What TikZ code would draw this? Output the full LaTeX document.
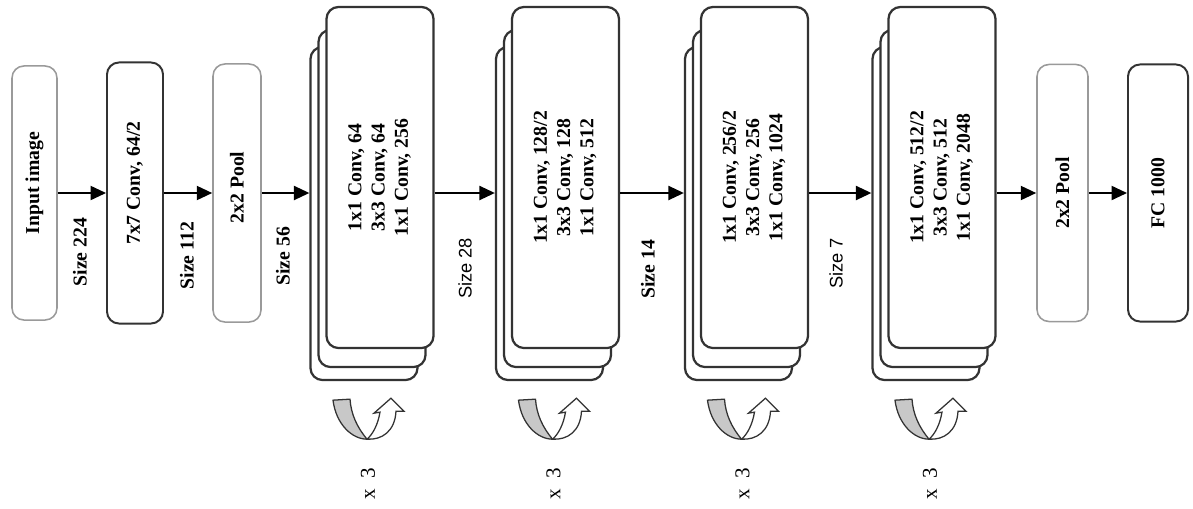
\documentclass[tikz,border=0pt]{standalone}
\usepackage{fontspec}
\setmainfont{Liberation Serif}
\setsansfont{Liberation Sans}
\usetikzlibrary{arrows.meta,positioning,calc}

\definecolor{edgedark}{HTML}{333333}
\definecolor{edgelight}{HTML}{9A9A9A}
\definecolor{loopgray}{HTML}{C8C8C8}

\tikzset{
  layer/.style={draw=edgedark, line width=1.4pt, rounded corners=0.3cm, fill=white,
    inner sep=0pt, font=\fontsize{14}{16.5}\selectfont\bfseries},
  lightlayer/.style={layer, draw=edgelight, line width=1.1pt},
  block/.style={layer, minimum width=2.675cm, minimum height=8.525cm, line width=1.6pt},
  flow/.style={line width=1.4pt, -{Triangle[length=11pt,width=10pt]}},
  sizelbl/.style={rotate=90, anchor=east, font=\fontsize{14}{16}\selectfont\bfseries},
  sizelblsf/.style={sizelbl, font=\sffamily\fontsize{13}{15}\selectfont},
  reploop/.pic={
    % grey band
    \draw[edgedark, line width=0.9pt, fill=loopgray]
      (-34,-39) .. controls (-31,-15) and (-15,0) .. (0,0)
      .. controls (-10,-12) and (-16,-25) .. (-17,-40) -- cycle;
    % open arrow
    \draw[edgedark, line width=0.9pt, fill=white]
      (0,0) .. controls (6,-5) and (11,-15) .. (13,-27) -- (7,-26) -- (24,-41)
      -- (37,-28) -- (29,-28) .. controls (28,-8) and (15,1) .. (0,0) -- cycle;
  }
}

\begin{document}
\begin{tikzpicture}[x=0.025cm, y=-0.025cm]
  \useasboundingbox (0,0) rectangle (1193,508);
  % Single blocks
  \node[lightlayer, minimum width=1.125cm, minimum height=6.35cm] (input) at (34.5,193)
    {\rotatebox{90}{\hspace{14pt}Input image}};
  \node[layer, minimum width=1.4cm, minimum height=6.525cm] (conv) at (135,193)
    {\rotatebox{90}{\hspace{14pt}7x7 Conv, 64/2}};
  \node[lightlayer, minimum width=1.2cm, minimum height=6.45cm] (pool1) at (237,193)
    {\rotatebox{90}{\hspace{8pt}2x2 Pool}};
  \node[lightlayer, minimum width=1.275cm, minimum height=6.425cm] (pool2) at (1062.5,193)
    {\rotatebox{90}{2x2 Pool}};
  \node[layer, minimum width=1.5cm, minimum height=6.425cm] (fc) at (1158,193)
    {\rotatebox{90}{FC 1000}};
  % Bottleneck stages
  \foreach \i/\cx/\txt in {
      1/380/{1x1 Conv, 64\\3x3 Conv, 64\\1x1 Conv, 256},
      2/565.5/{1x1 Conv, 128/2\\3x3 Conv, 128\\1x1 Conv, 512},
      3/754.5/{1x1 Conv, 256/2\\3x3 Conv, 256\\1x1 Conv, 1024},
      4/942/{1x1 Conv, 512/2\\3x3 Conv, 512\\1x1 Conv, 2048}} {
    \node[block, minimum height=8.325cm] (back\i) at (\cx-16,213.5) {};
    \node[block, minimum height=8.425cm] (mid\i) at (\cx-8,198.5) {};
    \node[block] (front\i) at (\cx,177.5)
      {\rotatebox{90}{\begin{tabular}{@{}c@{}}\txt\end{tabular}}};
    \pic at ($(back\i.south)+(3,58)$) {reploop};
    \node[rotate=90, font=\fontsize{15}{17}\selectfont] (rep\i) at ($(back\i.south)+(4,103)$)
      {x\enspace 3};
  }
  % Arrows
  \draw[flow] (input.east) -- (conv.west);
  \draw[flow] (conv.east) -- (pool1.west);
  \draw[flow] (pool1.east) -- (pool1.east -| back1.west);
  \draw[flow] (front1.east |- pool1.east) -- (back2.west |- pool1.east);
  \draw[flow] (front2.east |- pool1.east) -- (back3.west |- pool1.east);
  \draw[flow] (front3.east |- pool1.east) -- (back4.west |- pool1.east);
  \draw[flow] (front4.east |- pool2.west) -- (pool2.west);
  \draw[flow] (pool2.east) -- (fc.west);
  % Sizes
  \node[sizelbl] at (80,213) {Size 224};
  \node[sizelbl] at (187,217) {Size 112};
  \node[sizelbl] at (283,222) {Size 56};
  \node[sizelblsf] at (465,233) {Size 28};
  \node[sizelbl] at (648,235) {Size 14};
  \node[sizelblsf] at (836,233) {Size 7};
\end{tikzpicture}
\end{document}
